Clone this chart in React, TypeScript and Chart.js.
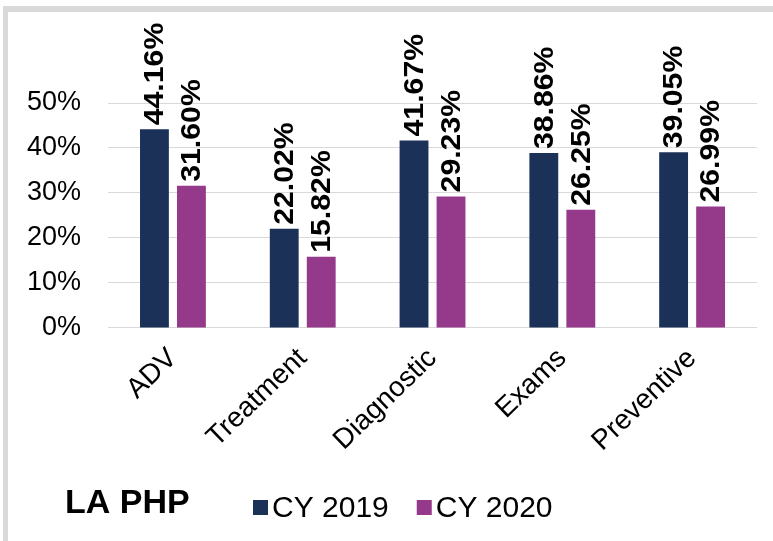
import React, { useEffect, useRef } from "react";
import { Chart, registerables } from "chart.js";

Chart.register(...registerables);

const categories = ["ADV", "Treatment", "Diagnostic", "Exams", "Preventive"];
const seriesNames = ["CY 2019", "CY 2020"];
const cy2019 = [44.16, 22.02, 41.67, 38.86, 39.05];
const cy2020 = [31.6, 15.82, 29.23, 26.25, 26.99];
const seriesColors = ["#1b3158", "#953a8b"];
const yTickValues = [0, 10, 20, 30, 40, 50];
const chartTitle = "LA PHP";

const FONT = "'Liberation Sans', Arial, Helvetica, sans-serif";

const framePlugin = {
  id: "frame",
  beforeDraw(chart: any) {
    const { ctx, width, height } = chart;
    ctx.save();
    ctx.fillStyle = "#ffffff";
    ctx.fillRect(0, 0, width, height);
    ctx.fillStyle = "#d9d9d9";
    ctx.fillRect(3, 6, 5, height - 6);
    ctx.fillRect(3, 6, width - 3, 6);
    ctx.restore();
  },
};

const dataLabelPlugin = {
  id: "dataLabels",
  afterDatasetsDraw(chart: any) {
    const { ctx } = chart;
    ctx.save();
    ctx.font = `bold 28px ${FONT}`;
    ctx.fillStyle = "#000000";
    ctx.textAlign = "left";
    ctx.textBaseline = "middle";
    chart.data.datasets.forEach((ds: any, di: number) => {
      const meta = chart.getDatasetMeta(di);
      meta.data.forEach((el: any, i: number) => {
        const v = ds.data[i];
        ctx.save();
        ctx.translate(el.x + 1, el.y - 4);
        ctx.rotate(-Math.PI / 2);
        ctx.scale(1.08, 1);
        ctx.fillText(v.toFixed(2) + "%", 0, 0);
        ctx.restore();
      });
    });
    ctx.restore();
  },
};

const legendPlugin = {
  id: "customLegend",
  afterDraw(chart: any) {
    const { ctx } = chart;
    ctx.save();
    ctx.fillStyle = "#000000";
    ctx.textBaseline = "alphabetic";
    ctx.textAlign = "left";
    ctx.font = `bold 34px ${FONT}`;
    ctx.fillText(chartTitle, 65, 513);

    ctx.font = `30px ${FONT}`;
    let x = 253;
    const baseline = 517;
    chart.data.datasets.forEach((ds: any) => {
      ctx.fillStyle = ds.backgroundColor;
      ctx.fillRect(x, 500, 15, 15);
      ctx.fillStyle = "#000000";
      const tx = x + 15 + 4;
      ctx.fillText(ds.label, tx, baseline);
      x = tx + ctx.measureText(ds.label).width + 28;
    });
    ctx.restore();
  },
};

export default function App() {
  const canvasRef = useRef<HTMLCanvasElement | null>(null);

  useEffect(() => {
    if (!canvasRef.current) return;
    const chart = new Chart(canvasRef.current, {
      type: "bar",
      data: {
        labels: categories,
        datasets: [
          {
            label: seriesNames[0],
            data: cy2019,
            backgroundColor: seriesColors[0],
            categoryPercentage: 0.57,
            barPercentage: 0.78,
          },
          {
            label: seriesNames[1],
            data: cy2020,
            backgroundColor: seriesColors[1],
            categoryPercentage: 0.57,
            barPercentage: 0.78,
          },
        ],
      },
      options: {
        animation: false,
        responsive: false,
        devicePixelRatio: 1,
        layout: { padding: { left: 0, right: 16, top: 103, bottom: 69 } },
        plugins: {
          legend: { display: false },
          tooltip: { enabled: false },
        },
        scales: {
          x: {
            grid: { display: false, drawTicks: false },
            border: { display: false },
            ticks: {
              font: { size: 28, family: FONT },
              color: "#000000",
              minRotation: 44,
              maxRotation: 44,
              autoSkip: false,
              padding: 14,
            },
          },
          y: {
            min: 0,
            max: 50,
            afterBuildTicks: (scale: any) => {
              scale.ticks = yTickValues.map((v) => ({ value: v }));
            },
            grid: { color: "#d9d9d9", lineWidth: 1, drawTicks: false },
            border: { display: false },
            ticks: {
              font: { size: 27, family: FONT },
              color: "#000000",
              padding: 27,
              callback: (v: any) => v + "%",
            },
          },
        },
      },
      plugins: [framePlugin, dataLabelPlugin, legendPlugin],
    });
    return () => chart.destroy();
  }, []);

  return (
    <div style={{ position: "fixed", left: 0, top: 0, width: 773, height: 541 }}>
      <canvas ref={canvasRef} width={773} height={541} style={{ display: "block" }} />
    </div>
  );
}
